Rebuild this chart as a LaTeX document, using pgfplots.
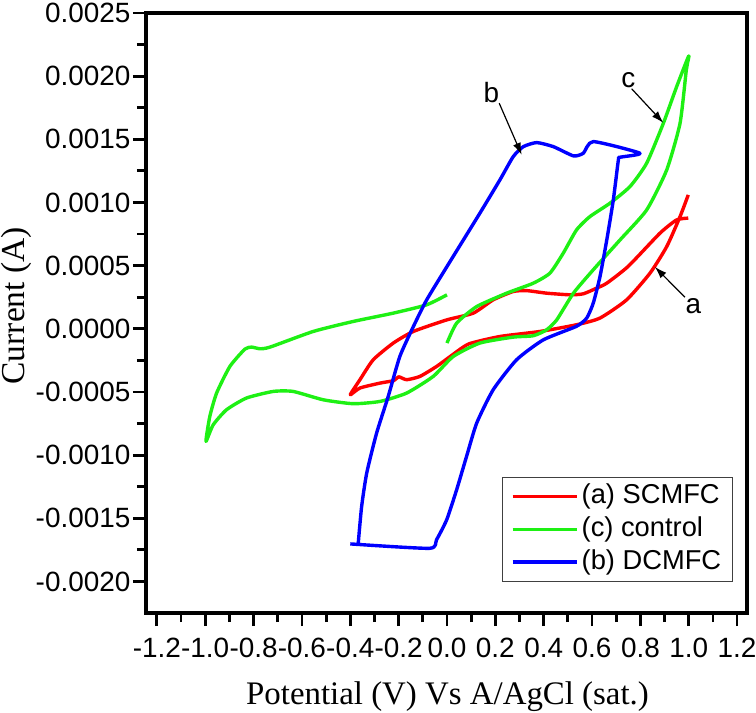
\documentclass[border=0pt]{standalone}
\usepackage{fontspec}
\setmainfont{Liberation Serif}
\newfontfamily\arial{Liberation Sans}
\usepackage{pgfplots}
\pgfplotsset{compat=1.18}
\usetikzlibrary{arrows.meta}

\definecolor{cvred}{RGB}{255,0,0}
\definecolor{cvgreen}{RGB}{30,240,20}
\definecolor{cvblue}{RGB}{0,0,255}

\begin{document}
\begin{tikzpicture}
\begin{axis}[
    width=300.5bp, height=300bp, scale only axis,
    xmin=-1.245, xmax=1.241,
    ymin=-0.00225, ymax=0.0025,
    xtick={-1.2,-1,-0.8,-0.6,-0.4,-0.2,0,0.2,0.4,0.6,0.8,1,1.2},
    xticklabels={-1.2,-1.0,-0.8,-0.6,-0.4,-0.2,0.0,0.2,0.4,0.6,0.8,1.0,1.2},
    ytick={-0.002,-0.0015,-0.001,-0.0005,0,0.0005,0.001,0.0015,0.002,0.0025},
    yticklabels={-0.0020,-0.0015,-0.0010,-0.0005,0.0000,0.0005,0.0010,0.0015,0.0020,0.0025},
    minor x tick num=1, minor y tick num=1,
    tick pos=left, tick align=outside,
    major tick length=6.5bp, minor tick length=4.5bp,
    tick style={black, line width=1.4bp},
    axis line style={line width=1.6bp},
    scaled y ticks=false,
    ticklabel style={font=\arial\fontsize{14}{17}\selectfont},
    x tick label style={yshift=-2.3bp},
    y tick label style={xshift=2.2bp},
    xlabel={Potential (V) Vs A/AgCl (sat.)},
    ylabel={Current (A)},
    every axis x label/.style={at={(axis description cs:0.5017,-0.1533)}, anchor=base,
        font=\fontsize{16.5}{20}\selectfont},
    every axis y label/.style={at={(axis description cs:-0.202,0.512)}, anchor=base, rotate=90,
        font=\fontsize{16.8}{20}\selectfont},
    legend style={at={(0.977,0.052)}, anchor=south east, draw=black!75, line width=0.6bp,
        font=\arial\fontsize{13.7}{16}\selectfont, inner xsep=4bp, inner ysep=1.5bp,
        nodes={inner sep=1.7bp, text height=10bp, text depth=2.9bp}},
    legend cell align=left,
    legend image code/.code={\draw[#1] (0bp,0bp) -- (32bp,0bp);},
    every axis plot/.append style={line width=1.7bp, line join=round, smooth, tension=0.35},
]
% (a) SCMFC
\addplot[cvred] coordinates {
(0.998,0.00106) (0.964,0.000888) (0.909,0.000651) (0.84,0.000441) (0.743,0.000229)
(0.633,0.000085) (0.536,0.000032) (0.385,-0.000021) (0.219,-0.000061) (0.09,-0.00012)
(0.02,-0.00021) (-0.043,-0.000298) (-0.112,-0.000377) (-0.167,-0.000403) (-0.20,-0.00038)
(-0.22,-0.00041) (-0.277,-0.00043) (-0.36,-0.000469) (-0.40,-0.000522) (-0.36,-0.000403)
(-0.305,-0.000245) (-0.222,-0.000113) (-0.139,-0.000021) (0.0,0.000071) (0.109,0.000124)
(0.191,0.000229) (0.274,0.000295) (0.33,0.000302) (0.412,0.000282) (0.509,0.000269)
(0.564,0.000277) (0.619,0.000322) (0.661,0.000361) (0.75,0.000495) (0.881,0.000757)
(0.95,0.000862) (0.998,0.000876)
};
\addlegendentry{(a) SCMFC}
% (c) control
\addplot[cvgreen] coordinates {
(0.0,-0.000113) (0.04,0.000045) (0.123,0.000176) (0.247,0.000282) (0.357,0.000361)
(0.426,0.000441) (0.481,0.000599) (0.536,0.000783) (0.591,0.000888) (0.674,0.000994)
(0.757,0.001126) (0.826,0.001311) (0.895,0.001627) (0.95,0.001917) (1.0,0.00216)
(0.99,0.002049) (0.964,0.001627) (0.909,0.001258) (0.826,0.000941) (0.716,0.000704)
(0.605,0.000467) (0.523,0.000282) (0.454,0.000071) (0.412,-0.000008) (0.357,-0.000055)
(0.274,-0.000066) (0.136,-0.000113) (0.026,-0.000219) (-0.057,-0.000377) (-0.167,-0.000509)
(-0.277,-0.000575) (-0.388,-0.000593) (-0.512,-0.000562) (-0.636,-0.000496) (-0.719,-0.000496)
(-0.829,-0.000548) (-0.912,-0.000641) (-0.967,-0.00076) (-0.997,-0.000891) (-0.981,-0.000694)
(-0.953,-0.000509) (-0.898,-0.000298) (-0.836,-0.000161) (-0.808,-0.000145) (-0.774,-0.000158)
(-0.732,-0.000145) (-0.553,-0.000021) (-0.388,0.000058) (-0.222,0.000124) (-0.084,0.00019)
(0.0,0.000269)
};
\addlegendentry{(c) control}
% (b) DCMFC
\addplot[cvblue] coordinates {
(-0.40,-0.001703) (-0.073,-0.001738) (-0.043,-0.001669) (-0.001,-0.001511) (0.04,-0.001274)
(0.081,-0.00101) (0.123,-0.000746) (0.191,-0.000483) (0.288,-0.000245) (0.399,-0.000087)
(0.536,0.00002) (0.578,0.000085) (0.605,0.000203) (0.633,0.000414) (0.661,0.000704)
(0.688,0.00102) (0.709,0.001337) (0.716,0.001358) (0.798,0.00139) (0.605,0.001482)
(0.564,0.00139) (0.523,0.001369) (0.44,0.001442) (0.371,0.001474) (0.316,0.001442)
(0.274,0.001363) (0.219,0.001179) (0.136,0.000915) (0.0,0.000493) (-0.084,0.000229)
(-0.139,0.000018) (-0.195,-0.000219) (-0.243,-0.000535) (-0.291,-0.000825) (-0.332,-0.001142)
(-0.353,-0.001406) (-0.367,-0.001696)
};
\addlegendentry{(b) DCMFC}

% annotation arrows
\draw[-{Latex[length=6bp,width=4bp]}, line width=0.6bp] (axis cs:0.216,0.001786) -- (axis cs:0.309,0.001377);
\node[font=\arial\fontsize{14}{16}\selectfont] at (axis cs:0.184,0.00187) {b};
\draw[-{Latex[length=6bp,width=4bp]}, line width=0.6bp] (axis cs:0.764,0.0019) -- (axis cs:0.895,0.00163);
\node[font=\arial\fontsize{14}{16}\selectfont] at (axis cs:0.75,0.00197) {c};
\draw[-{Latex[length=6bp,width=4bp]}, line width=0.6bp] (axis cs:0.984,0.00025) -- (axis cs:0.86,0.00049);
\node[font=\arial\fontsize{14}{16}\selectfont] at (axis cs:1.019,0.000176) {a};
\end{axis}
\pgfresetboundingbox
\useasboundingbox ([shift={(-73bp,-50bp)}]current axis.south west) rectangle ([shift={(4.5bp,6.5bp)}]current axis.north east);
\end{tikzpicture}
\end{document}
